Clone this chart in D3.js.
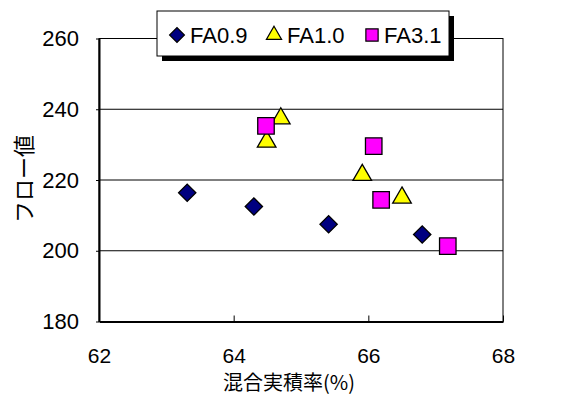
<!DOCTYPE html>
<html>
<head>
<meta charset="utf-8">
<script src="https://cdn.jsdelivr.net/npm/d3@7"></script>
<style>
  body { margin: 0; background: #fff; }
  text { font-family: "Liberation Sans", Arial, sans-serif; fill: #000; }
  .jp { font-family: "Noto Sans CJK JP", sans-serif; }
</style>
</head>
<body>
<svg id="chart" width="573" height="396"></svg>
<script>
// data
var fa09 = [[63.31, 216.4], [64.30, 212.5], [65.41, 207.5], [66.80, 204.6]];
var fa10 = [[64.49, 230.8], [64.70, 237.4], [65.91, 221.4], [66.50, 215.0]];
var fa31 = [[64.48, 235.3], [66.08, 229.6], [66.19, 214.4], [67.18, 201.3]];
var seriesNames = ["FA0.9", "FA1.0", "FA3.1"];
var xTicks = [62, 64, 66, 68];
var yTicks = [180, 200, 220, 240, 260];

var plotLeft = 99, plotRight = 503, plotTop = 38.5, plotBottom = 321.5;

var svg = d3.select("#chart");

var x = d3.scaleLinear().domain([62, 68]).range([plotLeft, plotRight]);
var y = d3.scaleLinear().domain([180, 260]).range([plotBottom, plotTop]);

// gridlines
svg.append("g").selectAll("line")
    .data(yTicks.slice(1, -1))
  .enter().append("line")
    .attr("x1", plotLeft).attr("x2", plotRight)
    .attr("y1", function(d) { return y(d); })
    .attr("y2", function(d) { return y(d); })
    .attr("stroke", "#000").attr("stroke-width", 1);

// frame
svg.append("rect")
    .attr("x", plotLeft).attr("y", plotTop)
    .attr("width", plotRight - plotLeft).attr("height", plotBottom - plotTop)
    .attr("fill", "none").attr("stroke", "#000").attr("stroke-width", 1);

// axes
var xAxis = svg.append("g")
    .attr("transform", "translate(0," + plotBottom + ")")
    .call(d3.axisBottom(x).tickValues(xTicks).tickFormat(d3.format("d"))
      .tickSizeInner(-6).tickSizeOuter(0).tickPadding(27));
var yAxis = svg.append("g")
    .attr("transform", "translate(" + plotLeft + ",0)")
    .call(d3.axisLeft(y).tickValues(yTicks).tickFormat(d3.format("d"))
      .tickSizeInner(3).tickSizeOuter(0).tickPadding(17));

[xAxis, yAxis].forEach(function(a) {
  a.select(".domain").attr("stroke", "#000").attr("stroke-width", 2);
  a.selectAll(".tick line").attr("stroke", "#000");
  a.selectAll(".tick text")
      .attr("font-family", "Liberation Sans, Arial, sans-serif")
      .attr("font-size", 22)
      .attr("fill", "#000");
});
xAxis.selectAll(".tick text").attr("font-size", 21);

// axis titles
svg.append("text")
    .attr("class", "jp")
    .attr("x", 289).attr("y", 390)
    .attr("text-anchor", "middle")
    .attr("font-size", 20)
    .text("混合実積率(%)");

svg.append("text")
    .attr("class", "jp")
    .attr("transform", "translate(32,179)rotate(-90)")
    .attr("text-anchor", "middle")
    .attr("font-size", 22)
    .text("フロー値");

// markers
var diamond = d3.symbol().type(d3.symbolSquare).size(150);
var tri = d3.symbol().type(d3.symbolTriangle).size(150);
var sq = d3.symbol().type(d3.symbolSquare).size(272);

function drawPoints(data, gen, fill, rot) {
  svg.append("g").selectAll("path")
      .data(data)
    .enter().append("path")
      .attr("d", gen)
      .attr("transform", function(d) {
        return "translate(" + x(d[0]) + "," + y(d[1]) + ")" + (rot ? "rotate(45)" : "");
      })
      .attr("fill", fill)
      .attr("stroke", "#000")
      .attr("stroke-width", 1.3);
}
drawPoints(fa09, diamond, "#000080", true);
drawPoints(fa10, tri, "#ffff00", false);
drawPoints(fa31, sq, "#ff00ff", false);

// legend
var lg = svg.append("g").attr("transform", "translate(157,11)");
lg.append("rect").attr("x", 5).attr("y", 5).attr("width", 292).attr("height", 45).attr("fill", "#000");
lg.append("rect").attr("x", 0).attr("y", 0).attr("width", 292).attr("height", 45)
    .attr("fill", "#fff").attr("stroke", "#000").attr("stroke-width", 1);

var lgItems = [
  {name: seriesNames[0], gen: d3.symbol().type(d3.symbolSquare).size(110), fill: "#000080", rot: true, mx: 20, tx: 33},
  {name: seriesNames[1], gen: d3.symbol().type(d3.symbolTriangle).size(100), fill: "#ffff00", rot: false, mx: 117, tx: 130},
  {name: seriesNames[2], gen: d3.symbol().type(d3.symbolSquare).size(150), fill: "#ff00ff", rot: false, mx: 215, tx: 227}
];
lgItems.forEach(function(it) {
  lg.append("path")
      .attr("d", it.gen)
      .attr("transform", "translate(" + it.mx + ",24)" + (it.rot ? "rotate(45)" : ""))
      .attr("fill", it.fill).attr("stroke", "#000").attr("stroke-width", 1.2);
  lg.append("text")
      .attr("x", it.tx).attr("y", 32)
      .attr("font-size", 22)
      .text(it.name);
});
</script>
</body>
</html>
